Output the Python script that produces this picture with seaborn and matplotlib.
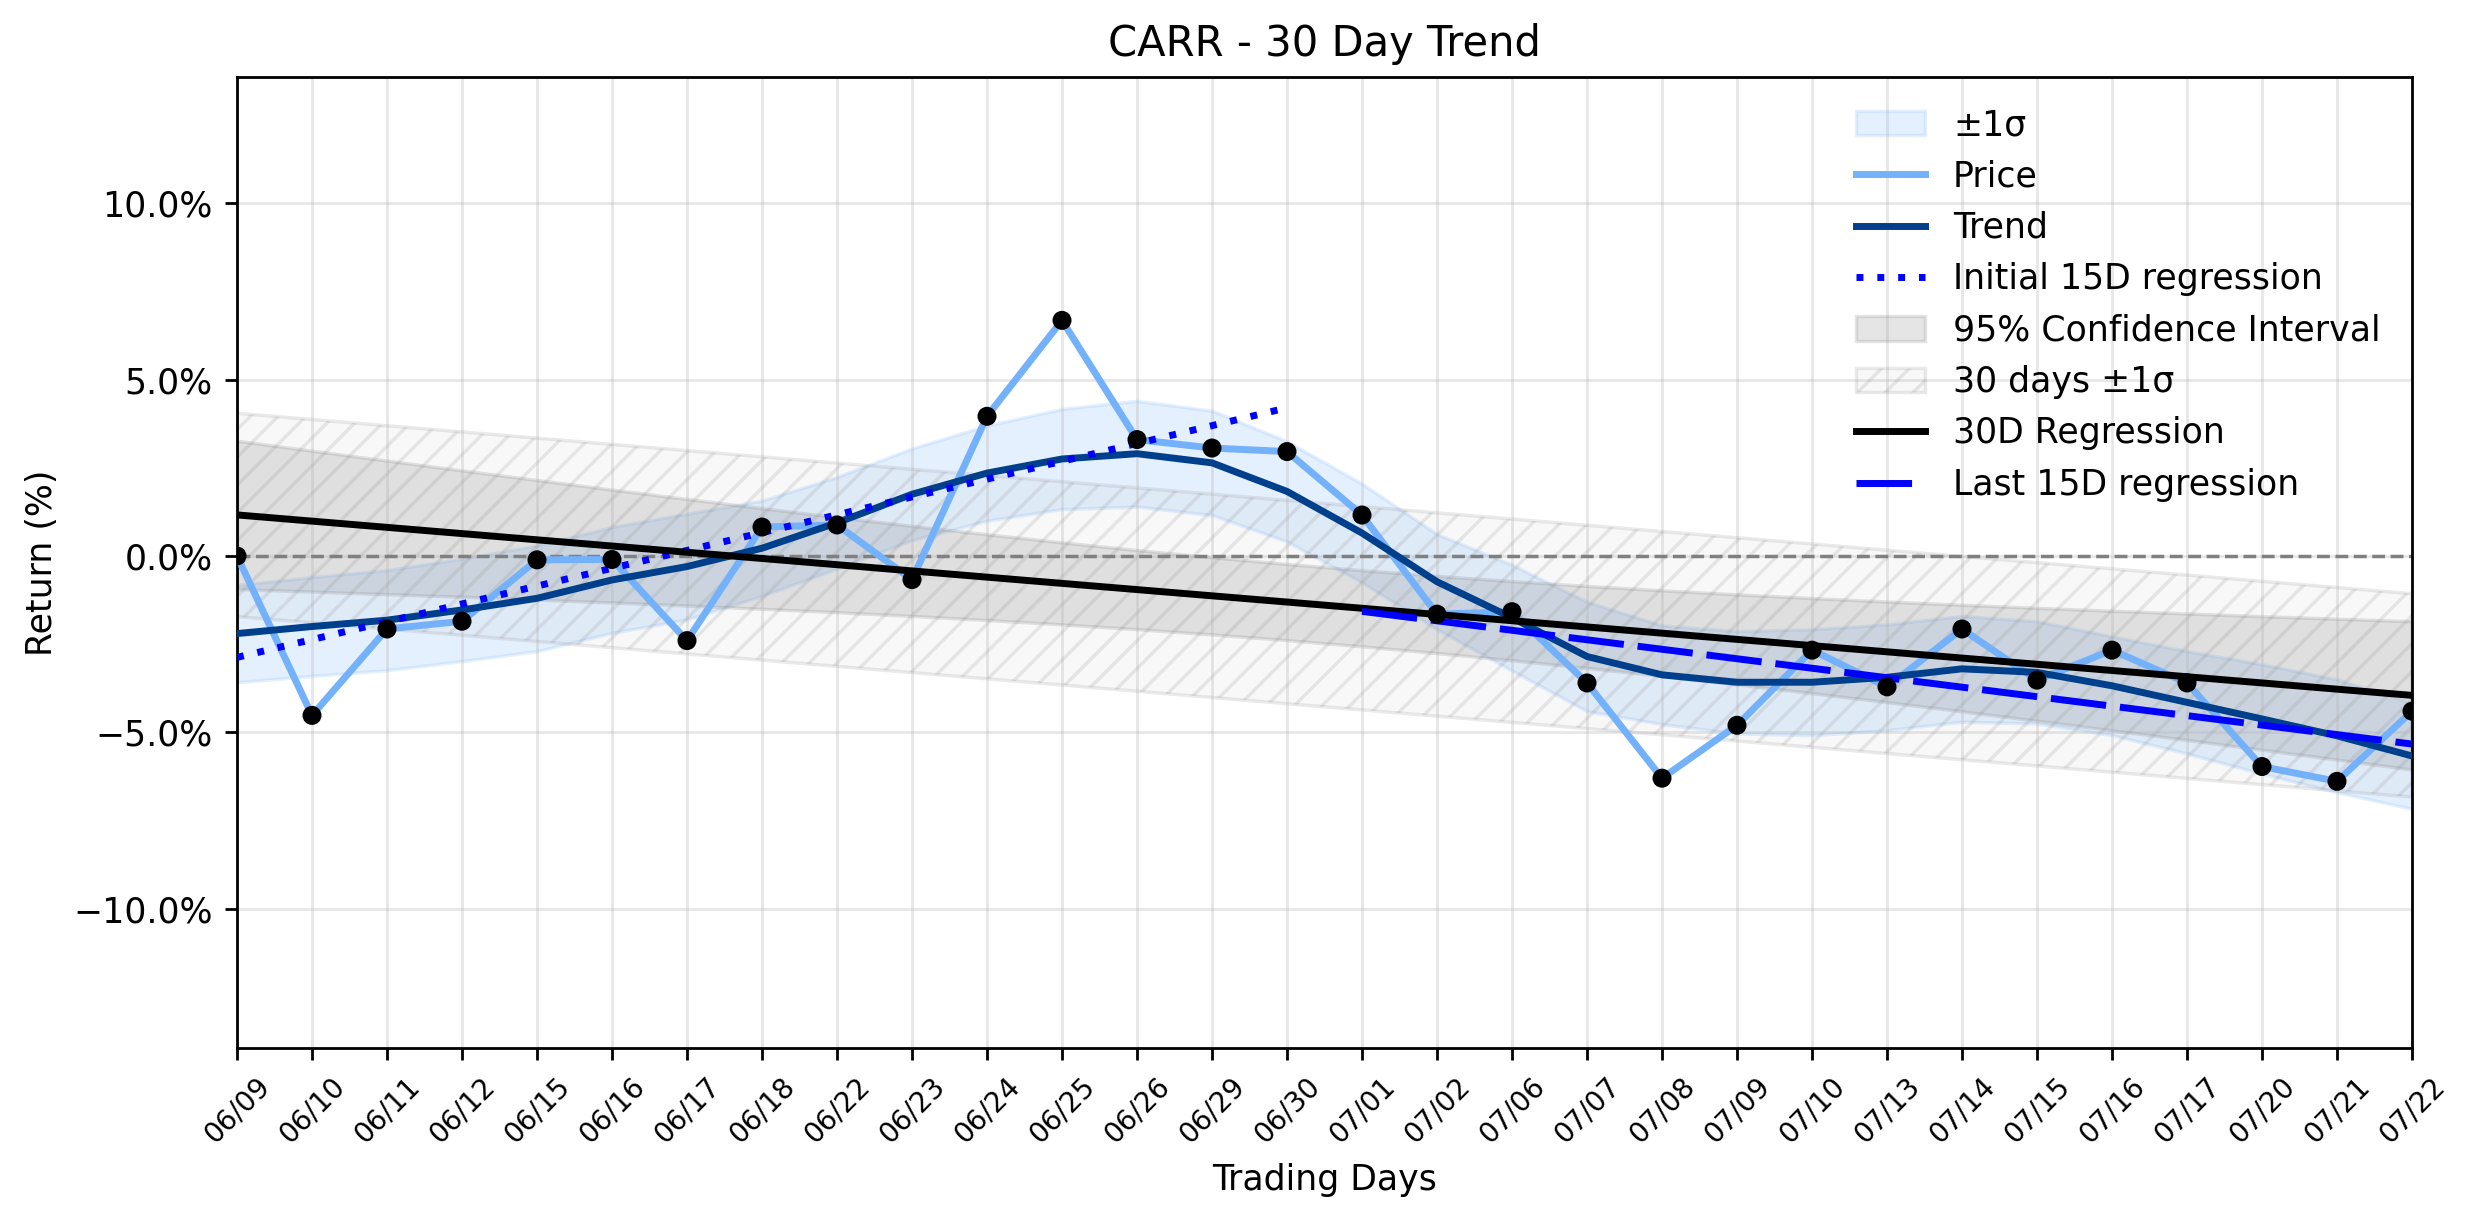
import numpy as np
import matplotlib
matplotlib.use("Agg")
import matplotlib.pyplot as plt
import matplotlib.ticker as mtick
import seaborn as sns

# --- DATA ---
dates = ["06/09", "06/10", "06/11", "06/12", "06/15", "06/16", "06/17", "06/18",
         "06/22", "06/23", "06/24", "06/25", "06/26", "06/29", "06/30", "07/01",
         "07/02", "07/06", "07/07", "07/08", "07/09", "07/10", "07/13", "07/14",
         "07/15", "07/16", "07/17", "07/20", "07/21", "07/22"]

# cumulative return (%)
price = [0.0, -4.52, -2.07, -1.85, -0.11, -0.10, -2.40, 0.82, 0.88, -0.67,
         3.96, 6.68, 3.30, 3.06, 2.96, 1.16, -1.65, -1.58, -3.60, -6.30,
         -4.80, -2.67, -3.71, -2.07, -3.52, -2.67, -3.60, -5.97, -6.39, -4.40]

# smoothed trend and its +/- 1 sigma half-width
trend = [-2.20, -2.00, -1.82, -1.53, -1.20, -0.68, -0.30, 0.22, 0.94, 1.75,
         2.35, 2.75, 2.90, 2.64, 1.83, 0.65, -0.73, -1.75, -2.85, -3.37,
         -3.58, -3.58, -3.44, -3.20, -3.30, -3.68, -4.15, -4.62, -5.10, -5.67]
trend_sigma = [1.38, 1.40, 1.42, 1.45, 1.50, 1.50, 1.50, 1.35, 1.30, 1.30,
               1.35, 1.42, 1.50, 1.48, 1.42, 1.40, 1.35, 1.50, 1.55, 1.40,
               1.45, 1.50, 1.50, 1.50, 1.45, 1.40, 1.45, 1.55, 1.60, 1.50]

T_CRIT = 2.048  # t(0.975, df=28)

# --- DERIVED ---
x = np.arange(len(dates))
y = np.array(price)
tr = np.array(trend)
sig = np.array(trend_sigma)
n = len(x)

slope, intercept = np.polyfit(x, y, 1)
fit = intercept + slope * x
resid_sd = np.sqrt(np.sum((y - fit) ** 2) / (n - 2))
ci = T_CRIT * resid_sd * np.sqrt(1 / n + (x - x.mean()) ** 2 / np.sum((x - x.mean()) ** 2))

x_first, x_last = x[:15], x[15:]
p1 = np.polyfit(x_first, y[:15], 1)
p2 = np.polyfit(x_last, y[15:], 1)

# --- PLOT ---
fig = plt.figure(figsize=(2474 / 250, 1224 / 250), dpi=250)
ax = fig.add_axes([237 / 2474, 1 - 1048 / 1224, (2412 - 237) / 2474, (1048 - 77) / 1224])

price_color = "#74b1fb"
ax.fill_between(x, tr - sig, tr + sig, color=price_color, alpha=0.18, label="±1σ", zorder=1)
sns.lineplot(x=x, y=y, ax=ax, color=price_color, lw=2, label="Price", zorder=3)
sns.lineplot(x=x, y=tr, ax=ax, color="#003f8c", lw=2, label="Trend", zorder=3)
sns.lineplot(x=x_first, y=np.polyval(p1, x_first), ax=ax, color="blue", lw=2,
             linestyle=(0, (1, 2)), label="Initial 15D regression", zorder=3)
ax.fill_between(x, fit - ci, fit + ci, color="gray", alpha=0.2,
                label="95% Confidence Interval", zorder=1)
ax.fill_between(x, fit - resid_sd, fit + resid_sd, facecolor=(0.5, 0.5, 0.5, 0.05),
                edgecolor=(0.5, 0.5, 0.5, 0.16), hatch="///", lw=1,
                label="30 days ±1σ", zorder=1)
sns.lineplot(x=x, y=fit, ax=ax, color="black", lw=2, label="30D Regression", zorder=3)
sns.lineplot(x=x_last, y=np.polyval(p2, x_last), ax=ax, color="blue", lw=2,
             linestyle=(0, (8, 2)), label="Last 15D regression", zorder=3)
sns.scatterplot(x=x, y=y, ax=ax, color="black", s=30, edgecolor="none", zorder=5)

ax.axhline(0, color="gray", linestyle="--", lw=1, zorder=2)

ax.set_xlim(0, n - 1)
ax.set_ylim(-13.95, 13.58)
ax.set_xticks(x)
ax.set_xticklabels(dates, rotation=45, fontsize=8)
ax.yaxis.set_major_formatter(mtick.PercentFormatter(decimals=1))
ax.grid(True, alpha=0.3)

ax.set_title("CARR - 30 Day Trend", fontsize=12)
ax.set_xlabel("Trading Days")
ax.set_ylabel("Return (%)")
ax.legend(loc="upper right", frameon=False)

fig.savefig("out.png", dpi=250)
